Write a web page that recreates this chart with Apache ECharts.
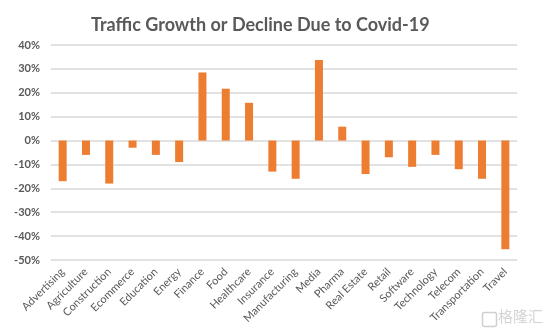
<!DOCTYPE html>
<html><head><meta charset="utf-8">
<script src="https://cdn.jsdelivr.net/npm/echarts@6/dist/echarts.min.js"></script>
<style>html,body{margin:0;padding:0;background:#fff}#c{width:554px;height:334px}</style>
</head><body><div id="c"></div>
<script>
const categories = ["Advertising","Agriculture","Construction","Ecommerce","Education","Energy","Finance","Food","Healthcare","Insurance","Manufacturing","Media","Pharma","Real Estate","Retail","Software","Technology","Telecom","Transportation","Travel"];
const values = [-17,-6,-18,-3,-6,-9,28.5,21.7,15.8,-13,-16,33.7,5.8,-14,-7,-11,-6,-12,-16,-45.5];
const yTicks = [-50,-40,-30,-20,-10,0,10,20,30,40];
const titleText = "Traffic Growth or Decline Due to Covid-19";

const chart = echarts.init(document.getElementById('c'), null, {renderer:'canvas'});
chart.setOption({
  animation:false,
  title:{text:titleText,left:86,top:11,textStyle:{fontFamily:'Lato',fontWeight:'bold',fontSize:18,color:'#595959'}},
  grid:{left:51,right:37,top:45,bottom:74,containLabel:false},
  xAxis:{type:'category',data:categories,
    axisLine:{show:false},axisTick:{show:false},
    axisLabel:{rotate:45,interval:0,fontFamily:'Lato',fontSize:11,color:'#595959',margin:10}},
  yAxis:{type:'value',min:yTicks[0],max:yTicks[yTicks.length-1],interval:10,
    axisLine:{show:false},axisTick:{show:false},
    axisLabel:{formatter:v=>v+'%',fontFamily:'Lato',fontWeight:'bold',fontSize:11,color:'#595959',margin:11},
    splitLine:{lineStyle:{color:'#d9d9d9',width:1.5}}},
  series:[{type:'bar',data:values,barWidth:8,itemStyle:{color:'#ed7d31'}}],
  graphic:[
    {type:'rect',left:480,top:310,shape:{width:14,height:14,r:2},style:{fill:'none',stroke:'#d0d0d0',lineWidth:1.5}},
    {type:'text',left:498,top:309,style:{text:'格隆汇',font:'15px "Noto Sans CJK SC"',fill:'#d4d4d4'}}
  ]
});
</script></body></html>
